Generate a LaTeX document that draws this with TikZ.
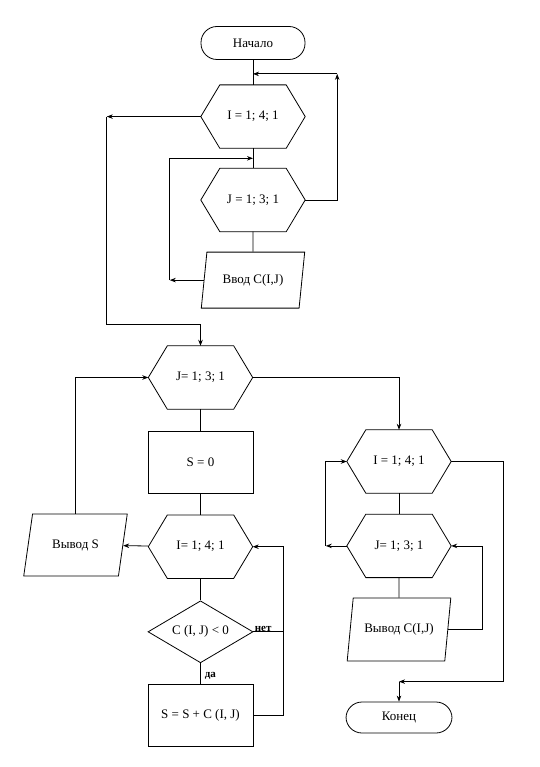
\documentclass[tikz,border=0pt]{standalone}
\usepackage{fontspec}
\setmainfont{Liberation Serif}
\usetikzlibrary{arrows.meta, positioning, shapes.geometric}
\tikzset{
  base/.style   = {font=\fontsize{13}{15}\selectfont, align=center, inner sep=2pt},
  wire/.style   = {line width=0.8pt},
  arr/.style    = {wire, -{Stealth[length=6pt, width=4.5pt]}},
  term/.style   = {base, draw, wire, rounded corners=16pt,
                   minimum width=104pt, minimum height=33pt},
  proc/.style   = {base, draw, wire, minimum width=105pt, minimum height=62pt},
  io/.style     = {base, draw, wire, trapezium, trapezium stretches=true,
                   trapezium left angle=74, trapezium right angle=106,
                   minimum width=104pt, minimum height=60pt},
  decide/.style = {base, draw, wire, diamond, aspect=1.7, inner sep=0pt,
                   minimum width=105pt, minimum height=62pt},
  hexbox/.style = {base, inner sep=0pt, minimum width=104pt, minimum height=63pt,
                   append after command={\pgfextra{\let\hexnode\tikzlastnode
                     \draw[wire] ([xshift=19pt]\hexnode.north west)
                       -- ([xshift=-19pt]\hexnode.north east) -- (\hexnode.east)
                       -- ([xshift=-19pt]\hexnode.south east)
                       -- ([xshift=19pt]\hexnode.south west) -- (\hexnode.west) -- cycle;}}},
  branch/.style = {font=\fontsize{11}{13}\selectfont\bfseries, inner sep=1pt},
}
\begin{document}
\begin{tikzpicture}[x=1pt, y=1pt]

\path[fill=white, use as bounding box] (0,0) rectangle (539,-767);

%% input
\node[term] (start) at (253,-43) {Начало};
\node[hexbox, below=25pt of start] (hI1) {I = 1; 4; 1};
\node[hexbox, below=20pt of hI1]   (hJ1) {J = 1; 3; 1};
\node[io, minimum height=56pt, trapezium left angle=76, trapezium right angle=104,
      below=20pt of hJ1] (in1) {Ввод C(I,J)};

%% sums
\node[hexbox] (hJ2) at (200.5,-377.5) {J= 1; 3; 1};
\node[proc,   below=22pt of hJ2] (s0)  {S = 0};
\node[hexbox, below=21pt of s0]  (hI2) {I= 1; 4; 1};
\node[decide, below=22pt of hI2] (neg) {C (I, J) < 0};
\node[proc,   below=21pt of neg] (sum) {S = S + C (I, J)};
\node[io, minimum height=62pt, trapezium left angle=71, trapezium right angle=109]
      (outS) at (75.5,-545) {Вывод S};

%% output
\node[hexbox] (hI3) at (399,-461.5) {I = 1; 4; 1};
\node[hexbox, below=21pt of hI3] (hJ3) {J= 1; 3; 1};
\node[io, minimum height=63pt, trapezium left angle=73, trapezium right angle=107,
      below=20pt of hJ3] (out2) {Вывод C(I,J)};
\node[term, minimum width=106pt, minimum height=31pt] (stop) at (399,-717.5) {Конец};

%% helper points
\coordinate[below=14pt of start] (jI1);
\coordinate (rI1) at ([xshift=32pt]hJ1.east |- jI1);
\coordinate[below=10pt of hI1] (jJ1);
\coordinate (lJ1) at ([xshift=-31pt]hJ1.west |- in1.west);
\coordinate (lI1) at ([xshift=-94pt]hI1.west);
\coordinate[above=21pt of hJ2] (dJ2);
\coordinate (rS) at ([xshift=30pt]sum.east);
\coordinate (lJ3) at ([xshift=-21pt]hJ3.west);
\coordinate (rJ3) at ([xshift=31pt]hJ3.east |- out2.east);
\coordinate[above=20pt of stop] (jE);
\coordinate (rI3) at ([xshift=52pt]hI3.east |- jE);

%% straight links
\draw[wire] (start) -- (hI1);
\draw[wire] (hI1)   -- (hJ1);
\draw[wire] (hJ1)   -- (in1);
\draw[wire] (hJ2)   -- (s0);
\draw[wire] (s0)    -- (hI2);
\draw[wire] (hI2)   -- (neg);
\draw[wire] (neg)   -- node[branch, right=3pt, pos=0.62] {да} (sum);
\draw[wire] (hI3)   -- (hJ3);
\draw[wire] (hJ3)   -- (out2);

%% input loops
\draw[arr] (hJ1.east) -| (rI1);
\draw[arr] (rI1) -- (jI1);
\draw[arr] (in1.west) -- (lJ1);
\draw[arr] (lJ1) |- (jJ1);
\draw[arr] (hI1.west) -- (lI1);
\draw[arr] (lI1) |- (dJ2) -- (hJ2);

%% sum loops
\draw[arr] (hI2) -- (outS);
\draw[arr] (outS.north) |- (hJ2.west);
\draw[arr] (sum.east) -- (rS) |- (hI2.east);
\draw[wire] (neg.east) -- node[branch, pos=0, anchor=base west] {нет} (neg.east -| rS);
\draw[arr] (hJ2.east) -| (hI3.north);

%% output loops
\draw[arr] (hJ3.west) -- (lJ3);
\draw[arr] (lJ3) |- (hI3.west);
\draw[arr] (out2.east) -- (rJ3) |- (hJ3.east);
\draw[arr] (hI3.east) -| (rI3) -- (jE);
\draw[arr] (jE) -- (stop);

\end{tikzpicture}
\end{document}
